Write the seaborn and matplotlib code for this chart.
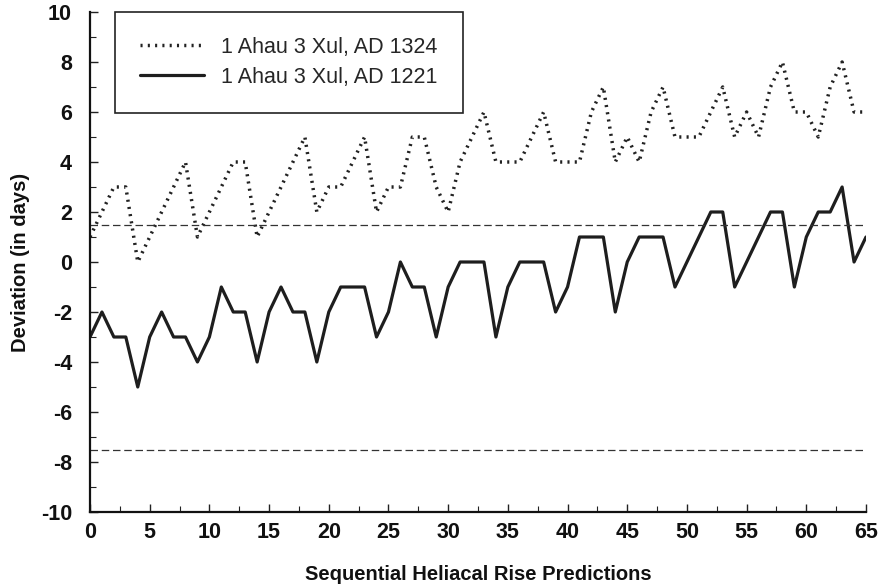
import matplotlib
matplotlib.use("Agg")
import matplotlib.pyplot as plt
import seaborn as sns
import pandas as pd
import numpy as np
from matplotlib.ticker import MultipleLocator

# ---- data ----
predictions = list(range(0, 66))
ad1324 = [1, 2, 3, 3, 0, 1, 2, 3, 4, 1, 2, 3, 4, 4, 1, 2, 3, 4, 5, 2,
          3, 3, 4, 5, 2, 3, 3, 5, 5, 3, 2, 4, 5, 6, 4, 4, 4, 5, 6, 4,
          4, 4, 6, 7, 4, 5, 4, 6, 7, 5, 5, 5, 6, 7, 5, 6, 5, 7, 8, 6,
          6, 5, 7, 8, 6, 6]
ad1221 = [-3, -2, -3, -3, -5, -3, -2, -3, -3, -4, -3, -1, -2, -2, -4, -2, -1, -2, -2, -4,
          -2, -1, -1, -1, -3, -2, 0, -1, -1, -3, -1, 0, 0, 0, -3, -1, 0, 0, 0, -2,
          -1, 1, 1, 1, -2, 0, 1, 1, 1, -1, 0, 1, 2, 2, -1, 0, 1, 2, 2, -1,
          1, 2, 2, 3, 0, 1]
series_labels = ["1 Ahau 3 Xul, AD 1324", "1 Ahau 3 Xul, AD 1221"]
limits = [1.5, -7.5]
x_ticks = list(range(0, 70, 5))
y_ticks = list(range(-10, 12, 2))

df1 = pd.DataFrame({"x": predictions, "y": ad1324})
df2 = pd.DataFrame({"x": predictions, "y": ad1221})

sns.set_style("ticks")
plt.rcParams["font.family"] = ["Liberation Sans Narrow", "Liberation Sans", "DejaVu Sans"]
plt.rcParams["axes.unicode_minus"] = False

fig = plt.figure(figsize=(8.88, 5.87), dpi=100)
ax = fig.add_axes([90 / 888, 1 - 512 / 587, 776 / 888, 500 / 587])

sns.lineplot(data=df1, x="x", y="y", ax=ax, color="#222222",
             linestyle=(0, (0.6, 1.5)), linewidth=2.5, label=series_labels[0])
sns.lineplot(data=df2, x="x", y="y", ax=ax, color="#1e1e1e",
             linewidth=2.3, label=series_labels[1])
for v in limits:
    ax.axhline(v, color="#333333", linewidth=0.9, linestyle=(0, (6, 3)))

ax.set_xlim(0, 65)
ax.set_ylim(-10, 10)
ax.set_xticks(x_ticks)
ax.set_yticks(y_ticks)
ax.xaxis.set_minor_locator(MultipleLocator(2.5))
ax.yaxis.set_minor_locator(MultipleLocator(1))
ax.tick_params(axis="both", which="both", direction="in", colors="#222222")
ax.tick_params(axis="both", which="major", length=6, width=1.0, labelsize=15.5)
ax.tick_params(axis="both", which="minor", length=4, width=0.8)
ax.tick_params(axis="y", which="major", pad=13)
ax.tick_params(axis="x", which="major", pad=7)
for lab in ax.get_xticklabels() + ax.get_yticklabels():
    lab.set_fontweight("bold")
    lab.set_color("#111111")

for s in ["top", "right"]:
    ax.spines[s].set_visible(False)
for s in ["left", "bottom"]:
    ax.spines[s].set_linewidth(1.6)
    ax.spines[s].set_color("#111111")

ax.set_xlabel("Sequential Heliacal Rise Predictions", fontsize=14.5,
              fontweight="bold", labelpad=16, color="#111111")
ax.set_ylabel("Deviation (in days)", fontsize=14.5, fontweight="bold",
              labelpad=8, color="#111111")

leg = ax.legend(loc="upper left", bbox_to_anchor=(0.032, 1.0), borderaxespad=0,
                frameon=True, fancybox=False, fontsize=15.5, handlelength=3.0,
                handletextpad=0.8, labelspacing=0.42, borderpad=1.15,
                edgecolor="#222222", framealpha=1)
leg.get_frame().set_linewidth(1.2)

fig.savefig("out.png", dpi=100, facecolor="white")
